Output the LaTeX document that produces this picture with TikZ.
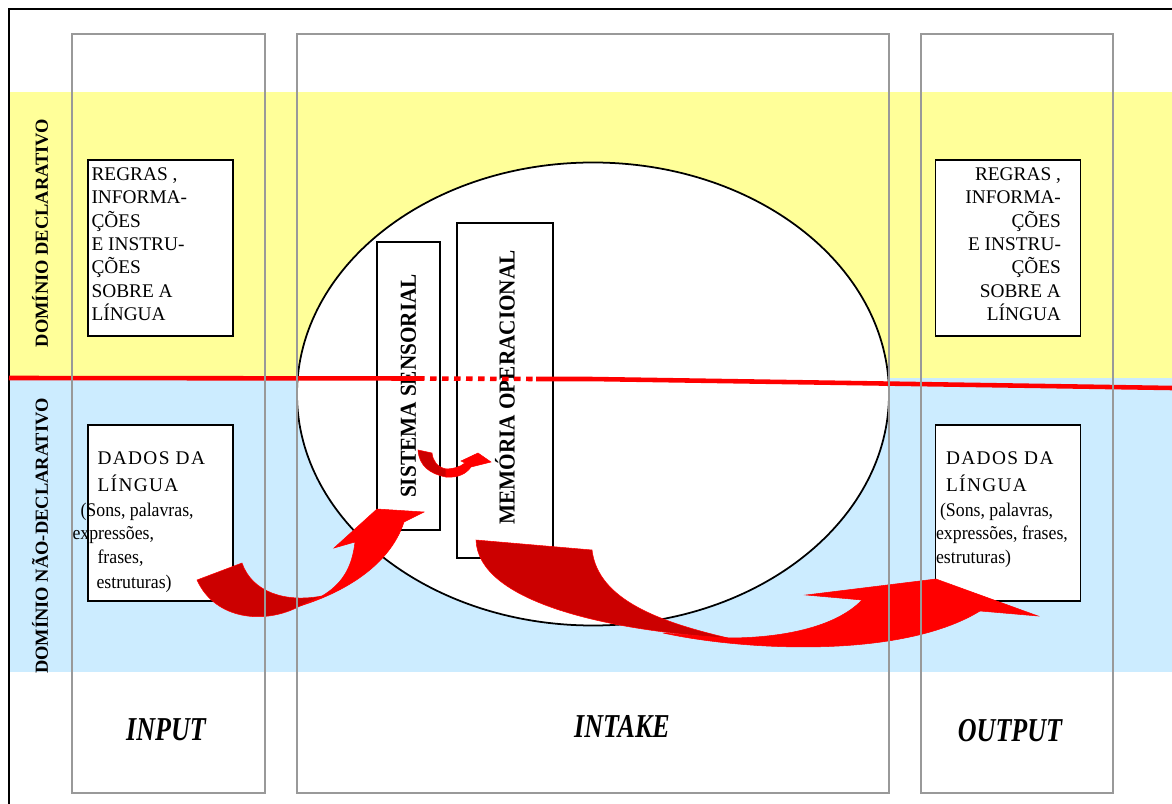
\documentclass[tikz,border=0pt]{standalone}
\usepackage{fontspec}
\setmainfont{Liberation Serif}
\newfontfamily\narrowserif[FakeStretch=0.92]{Liberation Serif}
\newfontfamily\boldnarrow[FakeStretch=0.93]{Liberation Serif}
\newfontfamily\colserif[FakeStretch=0.78]{Liberation Serif}
\usepackage{tikz}
\usetikzlibrary{positioning}
\usetikzlibrary{shapes.geometric}
\definecolor{bandyellow}{HTML}{FFFF99}
\definecolor{bandblue}{HTML}{CCECFF}
\definecolor{darkred}{HTML}{CC0000}
\definecolor{colgray}{HTML}{999999}

\begin{document}
\begin{tikzpicture}
[
x=0.2mm, y=-0.2mm,
infobox/.style={rectangle, draw, fill=white, line width=0.9pt, minimum width=29mm, minimum height=35.2mm},
membox/.style={rectangle, draw, fill=white, line width=0.9pt},
colbox/.style={draw=colgray, line width=1.1pt},
infotext/.style={inner sep=0pt, font=\fontsize{11}{13.3}\selectfont},
datatext/.style={inner sep=0pt, align=left, font=\fontsize{11}{13.3}\selectfont},
domtext/.style={rotate=90, inner sep=0pt, font=\fontsize{10.5}{12}\selectfont\bfseries},
memtext/.style={rotate=90, inner sep=0pt, font=\boldnarrow\fontsize{13}{15}\selectfont\bfseries},
coltext/.style={inner sep=0pt, font=\colserif\fontsize{19}{22}\selectfont\bfseries\itshape},
divider/.style={red, line width=2.6pt},
ribbon/.style={fill=red, draw=red, line width=0.3pt},
ribbondark/.style={fill=darkred, draw=red, line width=0.3pt},
]
\useasboundingbox (0,0) rectangle (1172,804);
\fill [white] (0,0) rectangle (1172,804);
\fill [bandyellow] (9,92) rectangle (1172,378);
\fill [bandblue] (9,378) rectangle (1172,672);
\draw [line width=1.2pt] (1172,9) -- (9,9) -- (9,804);

\node (oval) [ellipse, draw, fill=white, line width=1pt, inner sep=0pt, minimum width=118.4mm, minimum height=92.6mm] at (593,394) {};

\node (regin)  [infobox] at (160.5,248) {};
\node (regout) [infobox] at (1008,248) {};
\node (dadin)  [infobox] at (160.5,513) {};
\node (dadout) [infobox] at (1008,513) {};
\node (sens) [membox, minimum width=12.6mm, minimum height=57.6mm] at (408.5,386) {};
\node (mem)  [membox, minimum width=19.2mm, minimum height=67mm] at (505,390.5) {};

\node (tregin) [infotext, align=left, below right=1.6mm and 0.8mm of regin.north west]
  {REGRAS ,\\INFORMA-\\ÇÕES\\E INSTRU-\\ÇÕES\\SOBRE A\\LÍNGUA};
\node (tregout) [infotext, align=right, below left=1.6mm and 4mm of regout.north east]
  {REGRAS ,\\INFORMA-\\ÇÕES\\E INSTRU-\\ÇÕES\\SOBRE A\\LÍNGUA};
\node (tdadin) [datatext, anchor=north west] at ([shift={(-15,27)}]dadin.north west)
  {{\addfontfeature{LetterSpace=7}\hspace*{5mm}DADOS DA}\\[2pt]
   {\addfontfeature{LetterSpace=7}\hspace*{5mm}LÍNGUA}\\[1pt]
   {\narrowserif\hspace*{1.6mm}(Sons, palavras,}\\
   {\narrowserif expressões,}\\
   {\narrowserif\hspace*{5mm}frases,}\\[1pt]
   {\narrowserif\hspace*{4.8mm}estruturas)}};
\node (tdadout) [datatext, anchor=north west] at ([shift={(1,27)}]dadout.north west)
  {{\addfontfeature{LetterSpace=7}\hspace*{2mm}DADOS DA}\\[2pt]
   {\addfontfeature{LetterSpace=7}\hspace*{2mm}LÍNGUA}\\[1pt]
   {\narrowserif\hspace*{0.8mm}(Sons, palavras,}\\
   {\narrowserif expressões, frases,}\\
   {\narrowserif estruturas)}};

\node (tsens) [memtext] at (sens) {SISTEMA SENSORIAL};
\node (tmem)  [memtext, xshift=0.6mm] at (mem) {MEMÓRIA OPERACIONAL};

\node (lbdecl)    [domtext] at (40,233) {DOMÍNIO DECLARATIVO};
\node (lbnaodecl) [domtext] at (40,536) {DOMÍNIO NÃO-DECLARATIVO};

\coordinate (divl)  at (9,378);
\coordinate (divd1) at (418,378.5);
\coordinate (divd2) at (536,379);
\coordinate (divm)  at (590,379);
\coordinate (divr)  at (1172,388);
\draw [divider] (divl) -- (divd1);
\draw [divider, dash pattern=on 1.3mm off 1.1mm] (divd1) -- (divd2);
\draw [divider] (divd2) -- (divm) -- (divr);

\filldraw [ribbon] (300,606) .. controls (345,592) and (390,565) .. (404,522) -- (424,512) -- (377,509)
  -- (334,548) -- (355,542) .. controls (352,568) and (342,584) .. (322,596) -- cycle;
\filldraw [ribbondark] (197,580) .. controls (215,620) and (265,625) .. (300,606) -- (322,596)
  .. controls (285,603) and (252,592) .. (242,563) -- cycle;

\filldraw [ribbon] (446,477) .. controls (458,478) and (466,474) .. (471,467) -- (491,462) -- (478,453)
  -- (461,461) -- (465,463) .. controls (460,467) and (453,469) .. (446,469) -- cycle;
\filldraw [ribbondark] (418,450) .. controls (419,466) and (430,474) .. (446,477) -- (446,469)
  .. controls (437,467) and (433,461) .. (432,453) -- cycle;

\filldraw [ribbon] (663,633) .. controls (740,650) and (900,660) .. (980,611) -- (1038,616) -- (936,579)
  -- (806,595) -- (862,600) .. controls (835,628) and (780,638) .. (728,638) -- cycle;
\filldraw [ribbondark] (476,540) .. controls (478,600) and (600,630) .. (728,638)
  .. controls (660,622) and (598,600) .. (592,550) -- cycle;

\draw [colbox] (72,34) rectangle (265,793);
\draw [colbox] (297,34) rectangle (889,793);
\draw [colbox] (921,34) rectangle (1113,793);

\node (lbinput)  [coltext, anchor=base] at (166,740) {INPUT};
\node (lbintake) [coltext, anchor=base] at (622,737) {INTAKE};
\node (lboutput) [coltext, anchor=base] at (1010,741) {OUTPUT};
\end{tikzpicture}
\end{document}
